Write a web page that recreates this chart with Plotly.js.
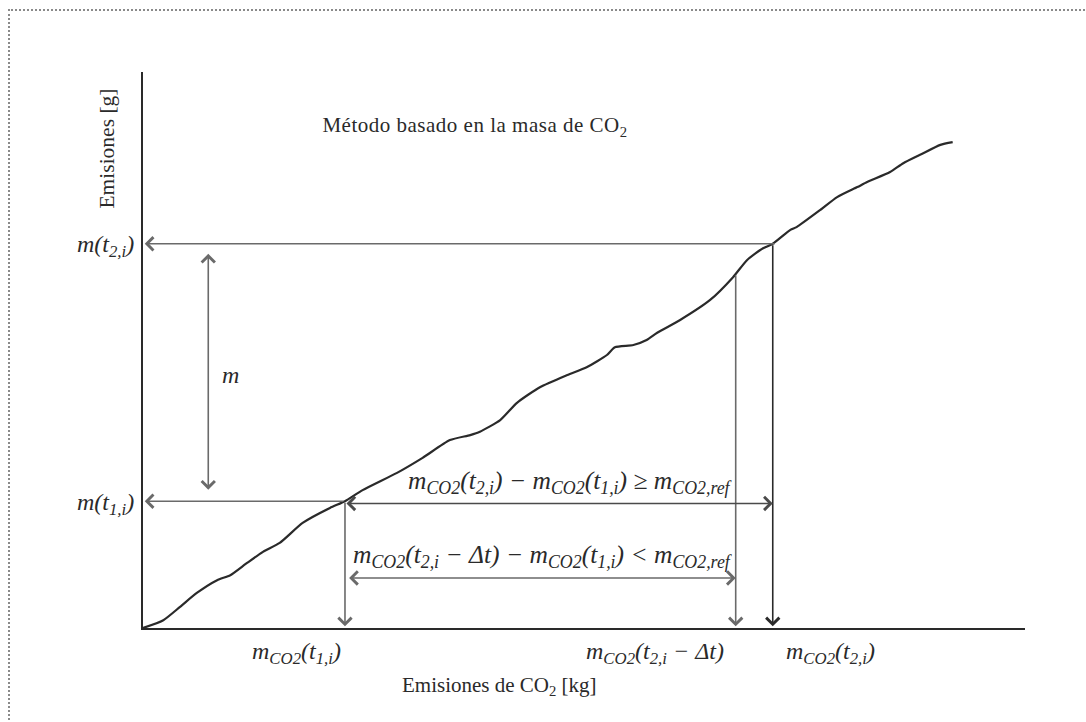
<!DOCTYPE html>
<html>
<head>
<meta charset="utf-8">
<script src="https://cdn.plot.ly/plotly-3.0.1.min.js"></script>
<style>
  html, body { margin: 0; padding: 0; background: #fff; }
  #wrap { position: relative; width: 1086px; height: 722px; overflow: hidden; }
  #chart { width: 1086px; height: 722px; }
  #frame { position: absolute; left: 8px; top: 9px; right: -10px; bottom: -10px;
           border-top: 2px dotted #8a8a8a; border-left: 2px dotted #8a8a8a; pointer-events: none; }
  .gtitle { letter-spacing: 0.5px; }
</style>
</head>
<body>
<div id="wrap">
  <div id="chart"></div>
  <div id="frame"></div>
</div>
<script>
// ---- data (x: CO2 emissions [kg], y: emissions [g], arbitrary units) ----
const curveX = [0, 2.3, 4.2, 6.1, 8.4, 9.9, 11.8, 13.6, 15.5, 18.1, 21.2, 22.9, 24.9, 28.8, 31.7,
                34.8, 37.1, 38.2, 40.5, 42.4, 45.0, 48.1, 50.3, 52.6, 53.5, 55.6, 57.1, 58.3, 60.9,
                64.3, 66.9, 68.5, 70.3, 71.4, 73.4, 74.1, 76.8, 78.7, 81.0, 82.1, 84.7, 86.2, 88.1,
                90.4, 91.8];
const curveY = [0, 1.4, 3.8, 6.3, 8.6, 9.5, 11.7, 13.7, 15.3, 18.9, 21.6, 22.8, 24.8, 27.9, 30.6,
                33.8, 34.7, 35.3, 37.4, 40.5, 43.3, 45.5, 46.9, 49.1, 50.5, 50.9, 51.8, 53.1, 55.4,
                59.0, 63.1, 66.2, 68.3, 69.1, 71.6, 72.1, 75.2, 77.5, 79.3, 80.2, 82.0, 83.6, 85.1,
                86.9, 87.4];

// key values
const mT1 = 22.8;        // m(t1,i)
const mT2 = 69.1;        // m(t2,i)
const mco2T1 = 22.9;     // m_CO2(t1,i)
const mco2T2 = 71.4;     // m_CO2(t2,i)
const mco2T2dt = 67.2;   // m_CO2(t2,i - Δt)
const mT2dt = 63.7;      // curve value at t2,i - Δt

// labels
const titleText = 'Método basado en la masa de CO<sub>2</sub>';
const xTitleText = 'Emisiones de CO<sub>2</sub> [kg]';
const yTitleText = 'Emisiones [g]';
const yTickText = ['m(t<sub>1,i</sub>)', 'm(t<sub>2,i</sub>)'];
const xLabelT1 = 'm<sub>CO2</sub>(t<sub>1,i</sub>)';
const xLabelT2dt = 'm<sub>CO2</sub>(t<sub>2,i</sub> − Δt)';
const xLabelT2 = 'm<sub>CO2</sub>(t<sub>2,i</sub>)';
const relGE = 'm<sub>CO2</sub>(t<sub>2,i</sub>) − m<sub>CO2</sub>(t<sub>1,i</sub>) ≥ m<sub>CO2,ref</sub>';
const relLT = 'm<sub>CO2</sub>(t<sub>2,i</sub> − Δt) − m<sub>CO2</sub>(t<sub>1,i</sub>) &lt; m<sub>CO2,ref</sub>';
const mLabel = 'm';

// ---- styling ----
const serif = 'Liberation Serif, DejaVu Serif, serif';
const gray = '#6a6a6a';
const dark = '#2a2a2a';
const mathSize = 24;

function arrow(x, y, ax, ay, opts) {
  return Object.assign({
    x: x, y: y, ax: ax, ay: ay, xref: 'x', yref: 'y', axref: 'x', ayref: 'y',
    text: '', showarrow: true, arrowhead: 4, arrowsize: 1.6, arrowwidth: 1.6,
    arrowcolor: gray, standoff: 0, startstandoff: 0
  }, opts || {});
}

function label(x, y, text, opts) {
  return Object.assign({
    x: x, y: y, xref: 'x', yref: 'y', text: text, showarrow: false,
    font: { family: serif, size: mathSize, color: dark, style: 'italic' },
    xanchor: 'center', yanchor: 'middle'
  }, opts || {});
}

// labels outside the plot area use paper coordinates (x range is 0..100 over the full domain)
function outside(xFrac, yFrac, text, opts) {
  return Object.assign({
    x: xFrac, y: yFrac, xref: 'paper', yref: 'paper', text: text, showarrow: false,
    font: { family: serif, size: mathSize, color: dark, style: 'italic' },
    xanchor: 'center', yanchor: 'middle'
  }, opts || {});
}

const relFont = { family: serif, size: 25.5, color: dark, style: 'italic' };

const annotations = [
  // horizontal to m(t2,i)
  arrow(0.2, mT2, mco2T2 + 0.4, mT2),
  // horizontal to m(t1,i)
  arrow(0.2, mT1, mco2T1, mT1),
  // vertical drops to x axis
  arrow(mco2T1, 0.3, mco2T1, mT1),
  arrow(mco2T2dt, 0.3, mco2T2dt, mT2dt),
  arrow(mco2T2, 0.3, mco2T2, mT2, { arrowcolor: dark }),
  // m double arrow
  arrow(7.4, mT2 - 1.8, 7.4, mT1 + 1.8, { arrowside: 'end+start', startarrowhead: 4, startarrowsize: 1.6 }),
  // relation arrows
  arrow(mco2T2, mT1 - 0.4, mco2T1, mT1 - 0.4, { arrowside: 'end+start', startarrowhead: 4, startarrowsize: 1.6, arrowcolor: '#4a4a4a' }),
  arrow(mco2T2dt, 9.0, mco2T1 + 0.3, 9.0, { arrowside: 'end+start', startarrowhead: 4, startarrowsize: 1.6 }),

  // text labels inside
  label(9.9, 45.5, mLabel),
  label(mco2T2dt - 0.1, 26.2, relGE, { xanchor: 'right', font: relFont }),
  label(mco2T2dt - 0.1, 13.0, relLT, { xanchor: 'right', font: relFont }),

  // labels below the x axis
  outside((mco2T1 - 5.5) / 100, -0.045, xLabelT1),
  outside((mco2T2dt - 9.2) / 100, -0.045, xLabelT2dt),
  outside((mco2T2 + 6.6) / 100, -0.045, xLabelT2),
  outside(0.404, -0.104, xTitleText, { font: { family: serif, size: 21, color: dark } }),
  outside(-0.041, 0.862, yTitleText, { textangle: -90, font: { family: serif, size: 21.5, color: dark } })
];

const traces = [{
  x: curveX, y: curveY, type: 'scatter', mode: 'lines',
  line: { color: dark, width: 2.2, shape: 'spline', smoothing: 0.6 },
  hoverinfo: 'skip', cliponaxis: false
}];

const layout = {
  width: 1086, height: 722,
  margin: { l: 143, r: 61, t: 72, b: 94 },
  paper_bgcolor: '#fff', plot_bgcolor: '#fff',
  showlegend: false,
  title: {
    text: titleText, x: 475 / 1086, xanchor: 'center', y: 1 - 125 / 722, yanchor: 'middle',
    font: { family: serif, size: 21, color: dark }
  },
  xaxis: {
    range: [0, 100], showline: true, linecolor: dark, linewidth: 2, mirror: false,
    showgrid: false, zeroline: false, showticklabels: false, ticks: '', fixedrange: true
  },
  yaxis: {
    range: [0, 100], showline: true, linecolor: dark, linewidth: 2,
    showgrid: false, zeroline: false, ticks: '', fixedrange: true,
    tickmode: 'array', tickvals: [mT1, mT2], ticktext: yTickText,
    tickfont: { family: serif, size: mathSize, color: dark, style: 'italic' }, ticklabelstandoff: 2
  },
  annotations: annotations
};

Plotly.newPlot('chart', traces, layout, { staticPlot: true, displayModeBar: false });
</script>
</body>
</html>
